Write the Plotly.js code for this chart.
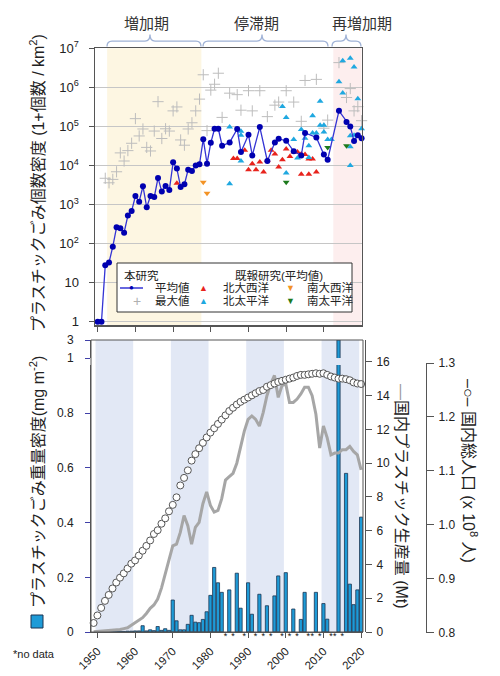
<!DOCTYPE html>
<html><head><meta charset="utf-8">
<script src="https://cdn.plot.ly/plotly-3.0.1.min.js"></script>
<style>html,body{margin:0;padding:0;background:#fff}#chart{width:500px;height:676px}</style>
</head><body><div id="chart"></div>
<script>
// ---------------- DATA ----------------
// Top panel: this study, mean count density (1 + count / km2)
const meanYears = [1949,1950,1951,1952,1953,1954,1955,1956,1957,1958,1959,1960,1961,1962,1963,1964,1965,1966,1967,1968,1969,1970,1971,1972,1973,1974,1975,1976,1977,1978,1979,1980,1981,1982,1983,1985,1987,1988,1990,1991,1993,1995,1997,1998,2000,2002,2004,2005,2008,2010,2011,2014,2016,2017,2018,2019,2020];
const meanValues = [1,1,1,28,33,83,260,245,190,520,680,1650,1180,2940,850,1650,1550,4800,2140,3000,2350,12000,8300,2800,3300,7800,7200,10000,10700,47000,11100,38000,87000,87000,32000,39000,86000,22000,61000,18000,96000,13000,39000,48000,43000,23000,18000,68000,52000,19000,14000,250000,130000,100000,42000,59000,50000];
// this study, maximum
const maxYears = [1952,1953,1954,1955,1956,1957,1958,1959,1960,1961,1962,1963,1964,1965,1966,1967,1968,1969,1970,1971,1972,1973,1974,1975,1976,1977,1978,1979,1980,1981,1982,1983,1985,1987,1988,1990,1991,1993,1995,1997,1998,2000,2002,2004,2005,2008,2010,2011,2014,2016,2017,2018,2019,2020];
const maxValues = [4700,3600,4400,6900,21000,13000,24000,37000,158000,57000,86000,29000,23500,76000,430000,49000,87000,76000,250000,315000,45000,33000,86000,124000,250000,500000,2100000,78000,850000,1200000,2300000,170000,710000,650000,260000,820000,250000,820000,178000,350000,420000,820000,420000,135000,1500000,1600000,90000,145000,4300000,550000,930000,250000,320000,140000];
// previous studies (means)
const naYears = [1971,1986,1987,1989,1990,1991,1992,1993,1994,1995,1996,1997,1998,1999,2000,2001,2002,2003,2004,2004,2005,2006,2006,2007,2008];
const naValues = [3500,15000,15000,24500,7800,11000,7800,12300,6800,13600,24500,19600,9100,14000,26500,17000,22000,22000,19600,6000,19000,14700,6000,14700,6800];
const npYears = [1985,1985,1988,1988,1988,1999,2000,2000,2002,2003,2004,2005,2006,2006,2007,2007,2008,2009,2009,2010,2010,2011,2012,2014,2015,2015,2017,2017,2017,2017,2018,2018,2019,2019,2020];
const npValues = [96000,3400,75000,59000,13000,325000,170000,6400,46000,15500,83000,50000,32000,16000,187000,68000,68000,440000,107000,107000,72000,46000,46000,1400000,4800000,720000,5600000,58000,30000,10000,3300000,59000,510000,56000,87000];
const saYears = [1978,1979];
const saValues = [3700,1950];
const spYears = [2000,2011,2016];
const spValues = [3700,29000,32000];

// Bottom panel: mass density (mg m-2)
const massYears = [1950,1951,1952,1953,1954,1955,1956,1957,1958,1959,1960,1961,1962,1963,1964,1965,1966,1967,1968,1969,1970,1971,1972,1973,1974,1975,1976,1977,1978,1979,1980,1981,1982,1983,1985,1987,1988,1990,1991,1993,1995,1997,1998,2000,2002,2004,2005,2008,2010,2011,2014,2016,2017,2018,2019,2020];
const massValues = [0,0,0.002,0.002,0.003,0.003,0.003,0.002,0.003,0.003,0.004,0.004,0.023,0.004,0.008,0.005,0.02,0.006,0.012,0.006,0.117,0.041,0.008,0.008,0.028,0.061,0.036,0.034,0.046,0.074,0.134,0.236,0.18,0.145,0.154,0.215,0.087,0.18,0.065,0.138,0.096,0.132,0.205,0.217,0.084,0.046,0.145,0.145,0.104,0.047,3.0,0.58,0.175,0.10,0.154,0.42];
const noDataYears = [1984,1986,1989,1992,1994,1996,1999,2001,2003,2006,2007,2009,2012,2013,2015];

// Domestic plastic production (Mt) and population (x 10^8)
const annualYears = [1949,1950,1951,1952,1953,1954,1955,1956,1957,1958,1959,1960,1961,1962,1963,1964,1965,1966,1967,1968,1969,1970,1971,1972,1973,1974,1975,1976,1977,1978,1979,1980,1981,1982,1983,1984,1985,1986,1987,1988,1989,1990,1991,1992,1993,1994,1995,1996,1997,1998,1999,2000,2001,2002,2003,2004,2005,2006,2007,2008,2009,2010,2011,2012,2013,2014,2015,2016,2017,2018,2019,2020];
const productionValues = [0.01,0.03,0.05,0.07,0.09,0.12,0.10,0.15,0.20,0.25,0.40,0.55,0.75,0.85,1.1,1.4,1.6,1.95,2.6,3.4,4.2,5.1,5.2,5.9,6.9,6.3,5.2,6.2,6.5,7.6,8.3,7.5,7.1,7.2,7.9,9.0,9.2,9.4,10.0,11.0,11.9,12.6,12.8,12.6,12.2,13.0,14.0,14.7,15.2,13.9,14.6,14.7,13.6,13.6,13.8,14.1,14.5,14.5,14.0,12.9,10.9,12.2,11.5,10.5,10.6,10.6,10.8,10.8,11.0,10.7,10.5,9.6];
const populationValues = [0.818,0.832,0.846,0.859,0.870,0.882,0.893,0.902,0.910,0.919,0.928,0.934,0.943,0.952,0.961,0.971,0.983,0.990,1.002,1.012,1.025,1.037,1.051,1.073,1.087,1.101,1.119,1.131,1.142,1.152,1.162,1.171,1.179,1.187,1.195,1.203,1.211,1.217,1.223,1.228,1.232,1.236,1.240,1.244,1.248,1.250,1.256,1.259,1.262,1.265,1.267,1.269,1.271,1.273,1.276,1.278,1.278,1.279,1.280,1.281,1.280,1.281,1.278,1.275,1.273,1.271,1.271,1.270,1.268,1.264,1.262,1.261];

// tick labels
const countTickVals = [1,10,100,1000,10000,100000,1000000,10000000];
const countTickText = ['1','10','10<sup>2</sup>','10<sup>3</sup>','10<sup>4</sup>','10<sup>5</sup>','10<sup>6</sup>','10<sup>7</sup>'];
const decadeTicks = [1950,1960,1970,1980,1990,2000,2010,2020];
const massTickVals = [0,0.2,0.4,0.6,0.8];
const massTickText = ['0','0.2','0.4','0.6','0.8'];
const prodTickVals = [0,2,4,6,8,10,12,14,16];
const popTickVals = [0.8,0.9,1.0,1.1,1.2,1.3];
const popTickText = ['0.8','0.9','1.0','1.1','1.2','1.3'];

// ---------------- LAYOUT HELPERS ----------------
const FONT = "'Liberation Sans', 'Noto Sans CJK JP', sans-serif";
const W = 500, H = 676;
const PX = x => x / W, PY = y => 1 - y / H;

const BLUE_BAR = '#1e9bd7';
const traces = [];

traces.push({type:'scatter', x:maxYears, y:maxValues, xaxis:'x', yaxis:'y', mode:'markers',
  marker:{symbol:'cross-thin-open', size:8, color:'#bdbdbd', line:{color:'#bdbdbd', width:1}},
  cliponaxis:false, hoverinfo:'skip'});
traces.push({type:'scatter', x:naYears, y:naValues, xaxis:'x', yaxis:'y', mode:'markers',
  marker:{symbol:'triangle-up', size:6, color:'#e8231c'}, cliponaxis:false, hoverinfo:'skip'});
traces.push({type:'scatter', x:npYears, y:npValues, xaxis:'x', yaxis:'y', mode:'markers',
  marker:{symbol:'triangle-up', size:6, color:'#1fa8e0'}, cliponaxis:false, hoverinfo:'skip'});
traces.push({type:'scatter', x:saYears, y:saValues, xaxis:'x', yaxis:'y', mode:'markers',
  marker:{symbol:'triangle-down', size:6, color:'#f39325'}, cliponaxis:false, hoverinfo:'skip'});
traces.push({type:'scatter', x:spYears, y:spValues, xaxis:'x', yaxis:'y', mode:'markers',
  marker:{symbol:'triangle-down', size:6, color:'#1d7a1d'}, cliponaxis:false, hoverinfo:'skip'});
traces.push({type:'scatter', x:meanYears, y:meanValues, xaxis:'x', yaxis:'y', mode:'lines+markers',
  line:{color:'#3434d4', width:1.3}, marker:{color:'#0000b0', size:6}, cliponaxis:false, hoverinfo:'skip'});

// bottom panel
traces.push({type:'bar', x:massYears, y:massValues, xaxis:'x2', yaxis:'y3', width:0.85,
  marker:{color:BLUE_BAR, line:{color:'#1a3350', width:0.8}}, hoverinfo:'skip'});
traces.push({type:'scatter', x:noDataYears, y:noDataYears.map(()=>0), xaxis:'x2', yaxis:'y3', mode:'text',
  text:noDataYears.map(()=>'*'), textposition:'bottom center', textfont:{size:9, color:'#111'}, cliponaxis:false, hoverinfo:'skip'});
const bigYears = massYears.filter((y,i)=>massValues[i] > 1);
const bigValues = massValues.filter(v=>v > 1);
traces.push({type:'bar', x:bigYears, y:bigValues, xaxis:'x2', yaxis:'y4', width:0.85,
  marker:{color:BLUE_BAR, line:{color:'#1a3350', width:0.8}}, hoverinfo:'skip'});
traces.push({type:'scatter', x:annualYears, y:productionValues, xaxis:'x2', yaxis:'y5', mode:'lines',
  line:{color:'#a6a6a6', width:3}, hoverinfo:'skip'});
traces.push({type:'scatter', x:annualYears, y:populationValues, xaxis:'x2', yaxis:'y6', mode:'markers',
  marker:{symbol:'circle', size:7, color:'#ffffff', line:{color:'#555', width:1}}, cliponaxis:false, hoverinfo:'skip'});

// braces
function brace(x1, x2, xc){
  const yb = 46.5, ym = 41, yp = 34.5, r = 5;
  const P = (x,y) => PX(x).toFixed(4) + ',' + PY(y).toFixed(4);
  return `M${P(x1,yb)} Q${P(x1,ym)} ${P(x1+r,ym)} L${P(xc-r,ym)} Q${P(xc,ym)} ${P(xc,yp)} Q${P(xc,ym)} ${P(xc+r,ym)} L${P(x2-r,ym)} Q${P(x2,ym)} ${P(x2,yb)}`;
}
const shapes = [
  {type:'rect', xref:'x', yref:'paper', x0:1952.5, x1:1977.5, y0:PY(325), y1:PY(48.3), fillcolor:'#fdf6e2', line:{width:0}, layer:'below'},
  {type:'rect', xref:'x', yref:'paper', x0:2012.5, x1:2020.03, y0:PY(325), y1:PY(48.3), fillcolor:'#fdeeee', line:{width:0}, layer:'below'},
  {type:'path', xref:'paper', yref:'paper', path:brace(107,201,150), line:{color:'#9fb2d6', width:1.3}},
  {type:'path', xref:'paper', yref:'paper', path:brace(203,328,262), line:{color:'#9fb2d6', width:1.3}},
  {type:'path', xref:'paper', yref:'paper', path:brace(332,361,346), line:{color:'#9fb2d6', width:1.3}},
  // legend box
  {type:'rect', xref:'paper', yref:'paper', x0:PX(117), x1:PX(352), y0:PY(312), y1:PY(263), fillcolor:'#ffffff', line:{color:'#333', width:1}, layer:'above'},
  {type:'line', xref:'paper', yref:'paper', x0:PX(120), x1:PX(143), y0:PY(288), y1:PY(288), line:{color:'#3434d4', width:1.5}, layer:'above'},
  // bottom frame
  {type:'rect', xref:'paper', yref:'paper', x0:PX(91), x1:PX(363), y0:PY(632), y1:PY(340), line:{color:'#555', width:1}, layer:'above'},
  // blue square of bottom title
  {type:'rect', xref:'paper', yref:'paper', x0:PX(31), x1:PX(43), y0:PY(628), y1:PY(615), fillcolor:BLUE_BAR, line:{color:'#1a3350', width:1}}
];
[[1949.5,1959.5],[1969.5,1979.5],[1989.5,1999.5],[2009.5,2019.5]].forEach(b=>{
  shapes.push({type:'rect', xref:'x2', yref:'paper', x0:b[0], x1:b[1], y0:PY(632), y1:PY(340), fillcolor:'#e2e8f5', line:{width:0}, layer:'below'});
});

const annotations = [];
function T(text, x, y, opt){
  const o = Object.assign({text:text, x:PX(x), y:PY(y), xref:'paper', yref:'paper', showarrow:false,
    xanchor:'center', yanchor:'middle', font:{size:11.5, color:'#222'}}, opt || {});
  annotations.push(o);
}
T('増加期', 146, 23, {font:{size:15, color:'#333'}});
T('停滞期', 256, 23, {font:{size:15, color:'#333'}});
T('再増加期', 362, 23, {font:{size:15, color:'#333'}});
T('プラスチックごみ個数密度 (1+個数 / km<sup>2</sup>)', 37, 183, {textangle:-90, font:{size:16, color:'#222'}});
T('プラスチックごみ重量密度(mg m<sup>-2</sup>)', 37, 482, {textangle:-90, font:{size:16, color:'#222'}});
T('*no data', 34, 654, {font:{size:11, color:'#222'}});
T('<span style="color:#999">—</span>国内プラスチック生産量 (Mt)', 402, 496, {textangle:90, font:{size:16, color:'#222'}});
T('–○– 国内総人口 (x 10<sup>8</sup> 人)', 470, 471, {textangle:90, font:{size:16, color:'#222'}});
// legend texts
T('本研究', 141, 275);
T('既報研究(平均値)', 279, 275);
T('平均値', 153, 288, {xanchor:'left'});
T('最大値', 153, 300.5, {xanchor:'left'});
T('北大西洋', 221, 288, {xanchor:'left'});
T('北太平洋', 221, 300.5, {xanchor:'left'});
T('南大西洋', 305, 288, {xanchor:'left'});
T('南太平洋', 305, 300.5, {xanchor:'left'});
T('●', 131.5, 288, {font:{size:8, color:'#0000b0'}});
T('+', 137, 300.5, {font:{size:14, color:'#b0b0b0'}});
T('▲', 203, 288, {font:{size:9, color:'#e8231c'}});
T('▲', 203, 300.5, {font:{size:9, color:'#1fa8e0'}});
T('▼', 290, 288, {font:{size:9, color:'#f39325'}});
T('▼', 290, 300.5, {font:{size:9, color:'#1d7a1d'}});

const layout = {
  width:W, height:H, margin:{l:0, r:0, t:0, b:0},
  paper_bgcolor:'#ffffff', plot_bgcolor:'rgba(0,0,0,0)', showlegend:false,
  font:{family:FONT, size:12, color:'#222'},
  xaxis:{domain:[PX(95), PX(361.7)], range:[1949.28, 2020.03], anchor:'y',
    showline:true, linecolor:'#555', linewidth:1.5, mirror:true, ticks:'outside', ticklen:5, tickcolor:'#555',
    tickvals:decadeTicks.slice(0,7), showticklabels:false, showgrid:false, zeroline:false},
  yaxis:{domain:[PY(325), PY(48.3)], type:'log', range:[-0.085, 7.0], anchor:'x',
    showline:true, linecolor:'#555', linewidth:1.5, mirror:true, ticks:'outside', ticklen:5, tickcolor:'#555',
    tickvals:countTickVals, ticktext:countTickText, tickfont:{size:13, color:'#222'}, ticklabelstandoff:7,
    showgrid:true, gridcolor:'#c6c6c6', gridwidth:1, zeroline:false},
  xaxis2:{domain:[PX(91), PX(363)], range:[1948.3, 2020.5], anchor:'y3',
    showline:true, linecolor:'#555', ticks:'outside', ticklen:5, tickcolor:'#555',
    tickvals:decadeTicks, tickangle:-45, tickfont:{size:11.5, color:'#222'}, ticklabelstandoff:2, showgrid:false, zeroline:false},
  yaxis3:{domain:[PY(632), PY(365)], range:[0, 0.9762], anchor:'x2',
    showline:true, linecolor:'#555', ticks:'outside', ticklen:5, tickcolor:'#4040a8',
    tickvals:massTickVals, ticktext:massTickText, tickfont:{size:12, color:'#222'}, ticklabelstandoff:9,
    showgrid:false, zeroline:false},
  yaxis4:{domain:[PY(358), PY(340)], range:[1, 3], anchor:'x2',
    showline:true, linecolor:'#555', ticks:'outside', ticklen:5, tickcolor:'#4040a8',
    tickvals:[1,3], ticktext:['1','3'], tickfont:{size:12, color:'#222'}, ticklabelstandoff:9,
    showgrid:false, zeroline:false},
  yaxis5:{domain:[PY(632), PY(340)], range:[0, 17.30], anchor:'free', position:PX(365), side:'right',
    showline:true, linecolor:'#555', ticks:'outside', ticklen:6, tickcolor:'#555',
    tickvals:prodTickVals, tickfont:{size:12, color:'#222'}, ticklabelstandoff:2,
    showgrid:false, zeroline:false},
  yaxis6:{domain:[PY(632.7), PY(363)], range:[0.8, 1.3], anchor:'free', position:PX(426), side:'right',
    showline:true, linecolor:'#555', ticks:'outside', ticklen:7, tickcolor:'#555',
    tickvals:popTickVals, ticktext:popTickText, tickfont:{size:12, color:'#222'}, ticklabelstandoff:2,
    showgrid:false, zeroline:false},
  shapes:shapes, annotations:annotations
};

Plotly.newPlot('chart', traces, layout, {displayModeBar:false, staticPlot:true});
</script>
</body></html>
